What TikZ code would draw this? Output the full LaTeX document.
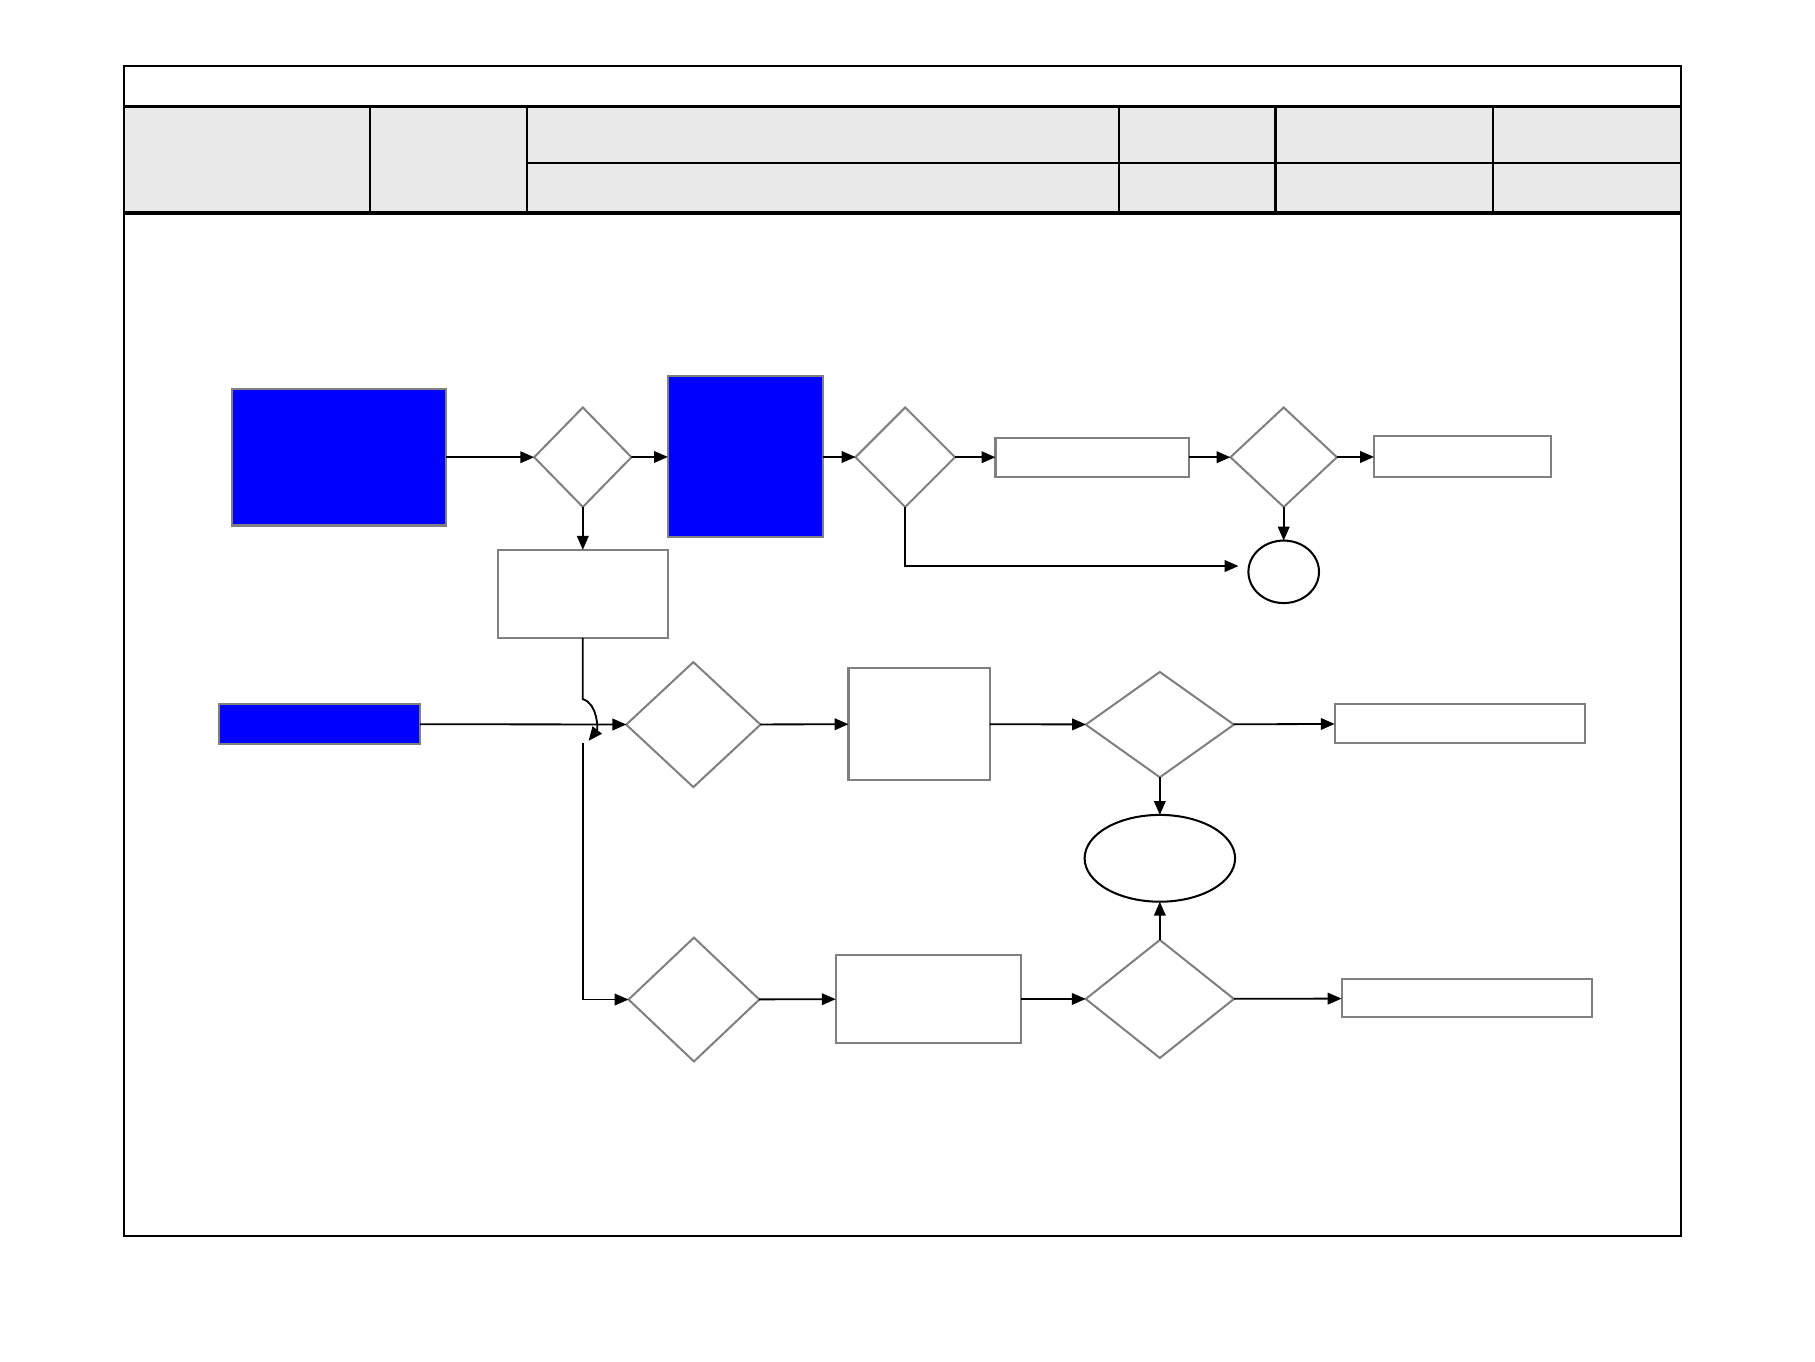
\documentclass[tikz,border=0pt]{standalone}
\usetikzlibrary{shapes.geometric,arrows.meta}
\definecolor{hdrgray}{HTML}{E9E9E9}
\definecolor{boxgray}{HTML}{808080}
\begin{document}
\begin{tikzpicture}
  [x=0.02cm,y=-0.02cm,
   every node/.style={outer sep=0pt,inner sep=0pt},
   bluebox/.style={rectangle,draw=boxgray,fill=blue,line width=1pt},
   plainbox/.style={rectangle,draw=boxgray,fill=white,line width=1pt},
   decision/.style={diamond,draw=boxgray,line width=1pt},
   endpoint/.style={ellipse,draw=black,line width=1pt},
   flow/.style={-{Triangle[length=0.24cm,width=0.2cm]},line width=0.9pt},
   hdrrule/.style={line width=1.6pt},
   hdrline/.style={line width=1pt}]
  \useasboundingbox (0,0) rectangle (1568,1176);

  % form header
  \fill[hdrgray] (107,92) rectangle (1451,184);
  \draw[hdrline] (107,57) rectangle (1452,1068);
  \draw[hdrrule] (107,92) -- (1451,92);
  \draw[hdrrule] (107,184) -- (1451,184);
  \draw[hdrline] (455,141) -- (1451,141);
  \foreach \x in {320,455,967,1290}
    \draw[hdrline] (\x,92) -- (\x,184);
  \draw[hdrrule] (1102,92) -- (1102,184);

  % top row
  \node[bluebox,minimum width=3.7cm,minimum height=2.36cm] (plan) at (292.5,395) {};
  \node[decision,minimum width=1.68cm,minimum height=1.72cm] (chk1) at (503.5,395) {};
  \node[bluebox,minimum width=2.68cm,minimum height=2.78cm] (work) at (644,394.5) {};
  \node[decision,minimum width=1.72cm,minimum height=1.72cm] (chk2) at (782,395) {};
  \node[plainbox,minimum width=3.34cm,minimum height=0.68cm] (step1) at (943.5,395) {};
  \node[decision,minimum width=1.84cm,minimum height=1.72cm] (chk3) at (1109,395) {};
  \node[plainbox,minimum width=3.06cm,minimum height=0.7cm] (step2) at (1263.5,394.5) {};
  \node[endpoint,minimum width=1.22cm,minimum height=1.08cm] (stop1) at (1109,494) {};
  \node[plainbox,minimum width=2.94cm,minimum height=1.52cm] (fix) at (503.5,513) {};

  % middle row
  \node[bluebox,minimum width=3.48cm,minimum height=0.7cm] (input) at (276,625.5) {};
  \node[decision,minimum width=2.32cm,minimum height=2.16cm] (chk4) at (599,626) {};
  \node[plainbox,minimum width=2.44cm,minimum height=1.94cm] (step3) at (794,625.5) {};
  \node[decision,minimum width=2.56cm,minimum height=1.82cm] (chk5) at (1002,626) {};
  \node[plainbox,minimum width=4.32cm,minimum height=0.68cm] (step4) at (1261,625) {};
  \node[endpoint,minimum width=2.6cm,minimum height=1.5cm] (stop2) at (1002,741.5) {};

  % bottom row
  \node[decision,minimum width=2.26cm,minimum height=2.14cm] (chk6) at (599.5,863.5) {};
  \node[plainbox,minimum width=3.2cm,minimum height=1.52cm] (step5) at (802,863) {};
  \node[decision,minimum width=2.56cm,minimum height=2.04cm] (chk7) at (1002,863) {};
  \node[plainbox,minimum width=4.32cm,minimum height=0.66cm] (step6) at (1267,862.5) {};

  \foreach \from/\to in {plan/chk1,chk1/work,work/chk2,chk2/step1,step1/chk3,chk3/step2,
      chk3/stop1,chk1/fix,input/chk4,chk4/step3,step3/chk5,chk5/step4,chk5/stop2,
      chk6/step5,step5/chk7,chk7/step6,chk7/stop2}
    \draw[flow] (\from) -- (\to);

  \coordinate (miss) at (1070,489);
  \draw[flow] (chk2.south) |- (miss);

  % line hop over the input arrow
  \coordinate (hopin) at (503.5,604);
  \coordinate (hopout) at (508.5,640);
  \coordinate (hopdown) at (503.5,642);
  \draw[flow] (fix.south) -- (hopin) .. controls (516.5,608) and (516.5,630) .. (hopout);
  \draw[flow] (hopdown) |- (chk6.west);

\end{tikzpicture}
\end{document}
